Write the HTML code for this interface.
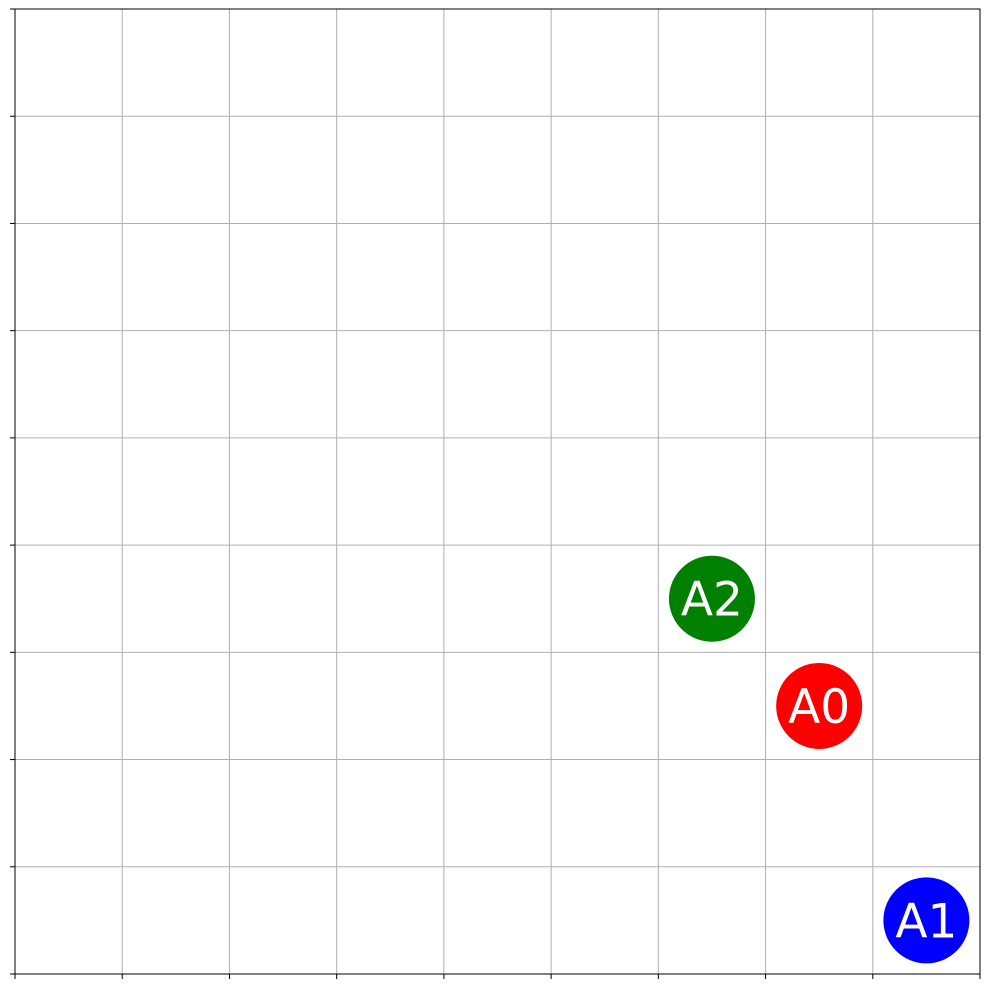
<!DOCTYPE html>
<html><head><meta charset="utf-8"><style>
html,body{margin:0;padding:0;background:#fff;}
svg{display:block;}
</style></head><body>
<svg id="chart" width="989" height="989" xmlns="http://www.w3.org/2000/svg"></svg>
<script>
const agentNames = ["A0", "A1", "A2"];
const agentX = [7, 8, 6];
const agentY = [2, 0, 3];
const agentColors = ["#ff0000", "#0000ff", "#008000"];
const gridSize = 9;

const svg = document.getElementById('chart');
const NS = 'http://www.w3.org/2000/svg';
const L = 15, R = 980, T = 9, B = 974;
const xs = v => L + (R - L) * v / gridSize;
const ys = v => B - (B - T) * v / gridSize;
function mk(tag, attrs) { const e = document.createElementNS(NS, tag); for (const k in attrs) e.setAttribute(k, attrs[k]); svg.appendChild(e); return e; }

for (let i = 1; i < gridSize; i++) {
  const gx = mk('line', {x1: xs(i), x2: xs(i), y1: T, y2: B, stroke: '#b0b0b0', 'stroke-width': 1});
  
  
  const gy = mk('line', {x1: L, x2: R, y1: ys(i), y2: ys(i), stroke: '#b0b0b0', 'stroke-width': 1});
  
  
}
for (let i = 0; i <= gridSize; i++) {
  const tx = mk('line', {x1: xs(i), x2: xs(i), y1: B, y2: B + 5, stroke: '#000', 'stroke-width': 1});
  
  
  const ty = mk('line', {x1: L - 5, x2: L, y1: ys(i), y2: ys(i), stroke: '#000', 'stroke-width': 1});
  
  
}
const frame = mk('rect', {x: L, y: T, width: R - L, height: B - T, fill: 'none', stroke: '#000', 'stroke-width': 1});



for (let i = 0; i < agentNames.length; i++) {
  const cx = xs(agentX[i] + 0.5), cy = ys(agentY[i] + 0.5);
  const c = mk('circle', {cx: cx, cy: cy, r: 43, fill: agentColors[i]});
  
  
  const t = mk('text', {x: cx, y: cy + 17, 'text-anchor': 'middle', fill: '#fff', 'font-size': 47, 'font-family': '"DejaVu Sans","Liberation Sans",sans-serif'});
  t.textContent = agentNames[i];
  
  
}
</script>
</body></html>
